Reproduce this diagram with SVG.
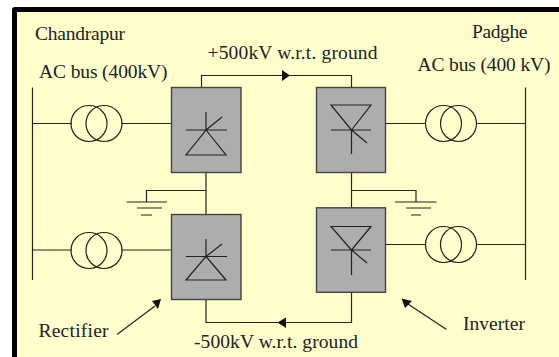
<svg xmlns="http://www.w3.org/2000/svg" width="559" height="357" viewBox="0 0 559 357">
<style>
.l{fill:none;stroke:#222;stroke-width:1.2}
.f{fill:#111;stroke:none}
.b{fill:#adadad;stroke:#444;stroke-width:1.4}
.t{font-family:"Liberation Serif","Times New Roman",serif;font-size:19.500px;fill:#222}
</style>
<defs>
<g id="xf" class="l"><circle cx="-7.500" cy="0" r="18"/><circle cx="7.500" cy="0" r="18"/></g>
</defs>
<rect width="559" height="357" fill="#fff"/>
<rect x="12" y="7" width="560" height="360" rx="3" fill="#000"/>
<rect x="17" y="12" width="542" height="345" fill="#ffffcc"/>
<g id="connectors" class="l">
<path d="M32.500 87.500V280"/><path d="M525.500 87.500V280"/>
<path d="M32.500 123.500H72M121 123.500H171"/>
<path d="M32.500 250H72M121 250H171"/>
<path d="M386 123.500H426M476 123.500H525"/>
<path d="M386 244.500H426M476 244.500H525"/>
<path d="M201.500 87V75.500H351.500V87"/>
<path d="M206 172V214"/><path d="M351.500 172V208"/>
<path d="M206 190.500H146.500V202"/><path d="M351.500 190.500H416V202"/>
<path d="M206 299V322.500H351.500V293"/>
<path d="M117 334.500L155 306"/><path d="M446.500 329.500L408 304"/>
<path class="f" d="M282 70L290 75.500L282 81Z"/>
<path class="f" d="M286 317.500L277.500 322.500L286 328Z"/>
<path class="f" d="M161 299L152 301L158 309Z"/>
<path class="f" d="M401.500 298.500L412 301L405 308Z"/>
</g>
<g id="rectifier-top"><rect class="b" x="171.500" y="87.500" width="69.500" height="85"/><path class="l" d="M206 112V130L186 155H226L206 130M186 130H227M206 130L222 117"/></g>
<g id="rectifier-bottom"><rect class="b" x="171.500" y="214.500" width="69.500" height="85"/><path class="l" d="M206 239V256.500L186 280H226L206 256.500M186 256.500H227M206 256.500L222 244"/></g>
<g id="inverter-top"><rect class="b" x="316.500" y="87.500" width="69" height="85"/><path class="l" d="M351.500 154V130L331 105H371L351.500 130M331 130H371M351.500 130L367 143"/></g>
<g id="inverter-bottom"><rect class="b" x="316.500" y="207.800" width="69" height="84.500"/><path class="l" d="M351.500 275V250L331 226.500H371L351.500 250M331 250H371M351.500 250L367 263"/></g>
<g id="xf1"><use href="#xf" x="96.500" y="123.500"/></g>
<g id="xf2"><use href="#xf" x="96.500" y="250.500"/></g>
<g id="xf3"><use href="#xf" x="451" y="123.500"/></g>
<g id="xf4"><use href="#xf" x="451" y="244.500"/></g>
<g id="gnd1"><path class="l" d="M126.500 202H167M137 208H162M141 215H152"/></g>
<g id="gnd2"><path class="l" d="M395 202H436.500M406 208H431M411 215H421"/></g>
<g id="labels">
<text class="t" x="35" y="40" textLength="90">Chandrapur</text>
<text class="t" x="39" y="77.500" textLength="128.500">AC bus (400kV)</text>
<text class="t" x="207.500" y="58.500" textLength="170">+500kV w.r.t. ground</text>
<text class="t" x="472" y="37.500" textLength="55.500">Padghe</text>
<text class="t" x="417.500" y="70.500" textLength="133">AC bus (400 kV)</text>
<text class="t" x="38.500" y="336.500" textLength="70">Rectifier</text>
<text class="t" x="463" y="329.500" textLength="62">Inverter</text>
<text class="t" x="194" y="347.500" textLength="164">-500kV w.r.t. ground</text>
</g>
</svg>
